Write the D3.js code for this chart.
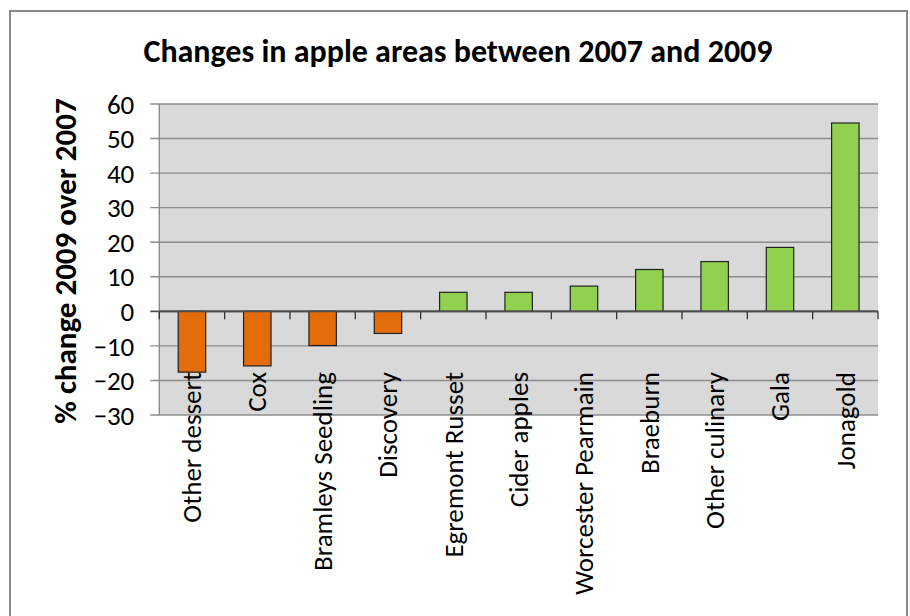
<!DOCTYPE html>
<html><head><meta charset="utf-8">
<script src="https://cdn.jsdelivr.net/npm/d3@7"></script>
<style>
body{margin:0;background:#fff;}
text{font-family:Carlito,Calibri,"Open Sans",sans-serif;fill:#000;}
</style></head>
<body><svg id="c" width="910" height="616"></svg>
<script>
const categories = ["Other dessert","Cox","Bramleys Seedling","Discovery","Egremont Russet","Cider apples","Worcester Pearmain","Braeburn","Other culinary","Gala","Jonagold"];
const values = [-17.6,-15.8,-9.9,-6.4,5.5,5.5,7.3,12.1,14.4,18.5,54.5];
const yTicks = [-30,-20,-10,0,10,20,30,40,50,60];
const title = "Changes in apple areas between 2007 and 2009";
const yTitle = "% change 2009 over 2007";

const svg = d3.select("#c");
const L=159.3, R=878, T=104, B=415;

svg.append("rect").attr("x",10).attr("y",11).attr("width",897).attr("height",620)
  .attr("fill","#fff").attr("stroke","#8a8a8a").attr("stroke-width",2);

const x = d3.scaleBand().domain(categories).range([L,R]).paddingInner(0.58).paddingOuter(0.29);
const y = d3.scaleLinear().domain([-30,60]).range([B,T]);

svg.append("rect").attr("x",L).attr("y",T).attr("width",R-L).attr("height",B-T).attr("fill","#d9d9d9");

// gridlines
svg.append("g").selectAll("line").data(yTicks).join("line")
  .attr("x1",L-9).attr("x2",R).attr("y1",d=>y(d)).attr("y2",d=>y(d))
  .attr("stroke",d=>d===0?"#4d4d4d":"#8c8c8c").attr("stroke-width",d=>d===0?1.6:1.4);

// y axis line
svg.append("line").attr("x1",L).attr("x2",L).attr("y1",T).attr("y2",B).attr("stroke","#8c8c8c").attr("stroke-width",1.4);

// y tick labels
const yAxis = d3.axisLeft(y).tickValues(yTicks).tickSize(0).tickPadding(25).tickFormat(d3.format("d"));
const ga = svg.append("g").attr("transform",`translate(${L},0)`).call(yAxis);
ga.select(".domain").remove();
ga.selectAll("text").style("font-size","27px").style("font-family",'Carlito,Calibri,"Open Sans",sans-serif').attr("fill","#1a1a1a").attr("dy","0.34em");

// bars
svg.append("g").selectAll("rect").data(categories).join("rect")
  .attr("x",d=>x(d)).attr("width",x.bandwidth())
  .attr("y",(d,i)=>y(Math.max(0,values[i])))
  .attr("height",(d,i)=>Math.abs(y(values[i])-y(0)))
  .attr("fill",(d,i)=>values[i]<0?"#e46c0a":"#92d050")
  .attr("stroke","#222").attr("stroke-width",1.2);

// zero axis ticks at band boundaries
const bounds = categories.map(c=>x(c)-x.step()*x.paddingInner()/2).concat([R]);
bounds[0]=L;
svg.append("g").selectAll("line").data(bounds).join("line")
  .attr("x1",d=>d).attr("x2",d=>d).attr("y1",y(0)).attr("y2",y(0)+8)
  .attr("stroke","#333").attr("stroke-width",1.3);
svg.append("line").attr("x1",L).attr("x2",R).attr("y1",y(0)).attr("y2",y(0)).attr("stroke","#4d4d4d").attr("stroke-width",1.6);

// category labels
svg.append("g").selectAll("text").data(categories).join("text")
  .attr("transform",d=>`translate(${x(d)+x.bandwidth()/2},${372}) rotate(-90)`)
  .attr("text-anchor","end").attr("dy","0.34em")
  .style("font-size","27px").attr("fill","#1a1a1a").text(d=>d);

// title
svg.append("text").attr("x",458).attr("y",62).attr("text-anchor","middle")
  .style("font-size","32px").style("font-weight","bold").text(title);

// y title
svg.append("text").attr("transform","translate(65,261) rotate(-90)").attr("text-anchor","middle")
  .attr("dy","0.34em").style("font-size","31px").style("font-weight","bold").text(yTitle);
</script></body></html>
